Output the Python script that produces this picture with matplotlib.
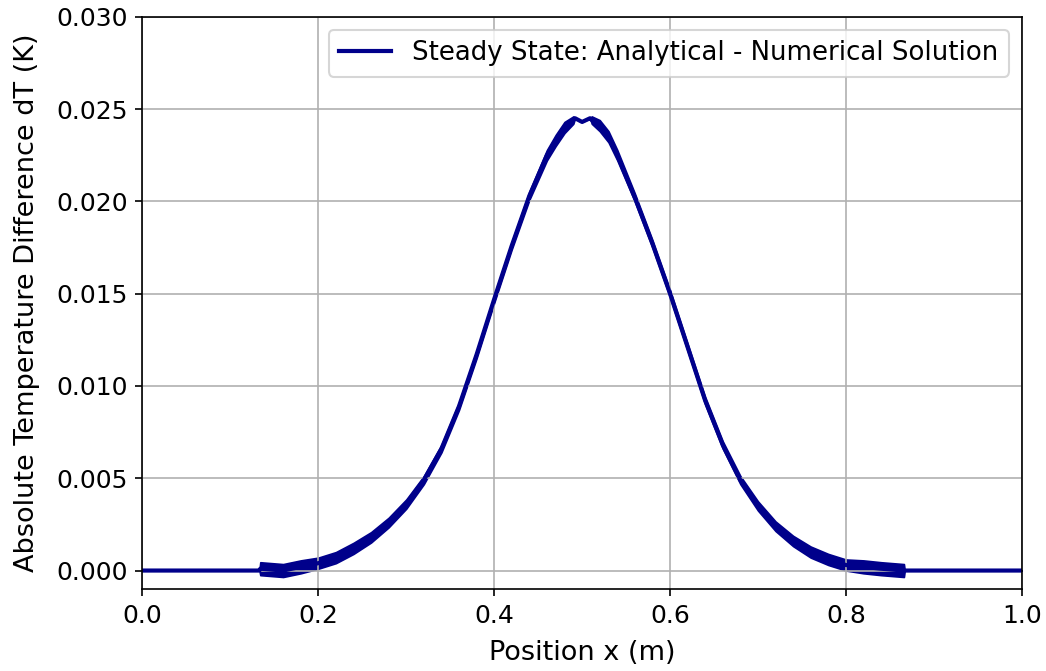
import numpy as np
import matplotlib
matplotlib.use("Agg")
from matplotlib import pyplot as plt

# position along the rod (m) and error
x_pos = [0.0, 0.05, 0.10, 0.133, 0.134, 0.16, 0.18, 0.20, 0.22, 0.24, 0.26,
         0.28, 0.30, 0.32, 0.34, 0.36, 0.38, 0.40, 0.42, 0.44, 0.46,
         0.47, 0.48, 0.490, 0.492, 0.500, 0.509, 0.511, 0.52, 0.53, 0.54,
         0.56, 0.58, 0.60, 0.62, 0.64, 0.66, 0.68, 0.70, 0.72, 0.74,
         0.76, 0.78, 0.80, 0.82, 0.84, 0.866, 0.867, 0.90, 0.95, 1.0]
dT = [0.0, 0.0, 0.0, 0.0, 0.0001, 0.0, 0.0002, 0.0004, 0.0007, 0.0012, 0.0018,
      0.0026, 0.0036, 0.0049, 0.0066, 0.0089, 0.0117, 0.0147, 0.0176, 0.0203, 0.0225,
      0.0233, 0.0240, 0.0244, 0.0245, 0.0243, 0.0245, 0.0244, 0.0241, 0.0235, 0.0225,
      0.0202, 0.0177, 0.0150, 0.0121, 0.0092, 0.0068, 0.0049, 0.0035, 0.0024, 0.0016,
      0.0010, 0.0006, 0.0003, 0.0002, 0.0001, 0.0, 0.0, 0.0, 0.0, 0.0]
# half width of the jitter around the curve
jitter = [0.0, 0.0, 0.0, 0.0, 0.00035, 0.00035, 0.00035, 0.0003, 0.0003, 0.0003, 0.00028,
          0.00026, 0.00025, 0.00022, 0.0002, 0.0002, 0.0002, 0.0002, 0.0002, 0.00022, 0.00028,
          0.0003, 0.0003, 0.0002, 0.0, 0.0, 0.0, 0.0002, 0.0003, 0.0003, 0.00028,
          0.00022, 0.0002, 0.0002, 0.0002, 0.0002, 0.0002, 0.00022, 0.00025, 0.00026, 0.00028,
          0.0003, 0.0003, 0.0003, 0.00035, 0.00035, 0.00035, 0.0, 0.0, 0.0, 0.0]

x_pos = np.array(x_pos)
dT = np.array(dT)
jitter = np.array(jitter)

plt.rcParams['font.family'] = ['DejaVu Sans']
plt.rcParams['font.size'] = 12.5
plt.rcParams['xtick.labelsize'] = 12
plt.rcParams['ytick.labelsize'] = 12

fig = plt.figure(figsize=(1046 / 150, 671 / 150), dpi=150)
ax = fig.add_axes([0.1362, 0.1222, 0.8406, 0.8529])

ax.fill_between(x_pos, dT - jitter, dT + jitter, color='darkblue', lw=0.8)
ax.plot(x_pos, dT, color='darkblue', lw=2, label='Steady State: Analytical - Numerical Solution')

ax.set_xlim(0, 1)
ax.set_ylim(-0.001, 0.030)
ax.set_xlabel('Position x (m)', fontsize=13, labelpad=6)
ax.set_ylabel('Absolute Temperature Difference dT (K)', fontsize=13, labelpad=8)
ax.grid(True)
ax.legend(loc='upper right')

fig.savefig('out.png', dpi=150)
